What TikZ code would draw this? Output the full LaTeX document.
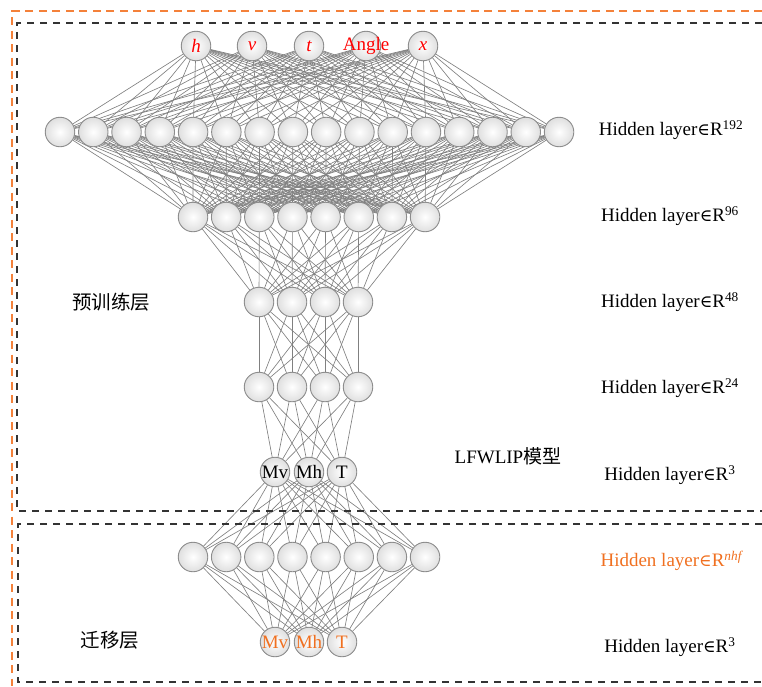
\documentclass[tikz,border=0pt]{standalone}
\usepackage{fontspec}
\setmainfont{Liberation Serif}
\newfontfamily\cjk{Noto Sans CJK SC}
\newfontfamily\symf{DejaVu Serif}
\newcommand{\elemof}{{\symf\fontsize{17}{20}\selectfont ∈}}
\definecolor{orgline}{HTML}{F4813A}
\definecolor{orgtext}{HTML}{F07020}
\definecolor{dashgray}{HTML}{333333}
\pgfdeclarelayer{bg}
\pgfsetlayers{bg,main}
\begin{document}
\begin{tikzpicture}[x=1pt,y=-1pt,
  neuron/.style={circle,minimum size=29.5pt,inner sep=0pt,draw=gray!90,line width=0.9pt,
    inner color=white,outer color=gray!25},
  conn/.style={draw=black!50,line width=0.65pt},
  lbl/.style={font=\fontsize{19}{22}\selectfont,anchor=center},
  boxo/.style={draw=orgline,line width=1.4pt,dash pattern=on 8pt off 5.5pt},
  boxk/.style={draw=dashgray,line width=1.3pt,dash pattern=on 7pt off 6pt},
  inlbl/.style={font=\fontsize{19}{22}\selectfont\itshape,text=red},
  nlbl/.style={font=\fontsize{19}{22}\selectfont}
]
\useasboundingbox (0,0) rectangle (762,686);
% frames
\draw[boxo] (762,11) -- (12,11) -- (12,686);
\draw[boxk] (762,23) -- (17,23) -- (17,511) -- (762,511);
\draw[boxk] (762,524) -- (18,524) -- (18,682) -- (762,682);
% input layer
\node[neuron,inlbl] (a1) at (196,46) {h};
\node[neuron,inlbl] (a2) at (252,46) {v};
\node[neuron,inlbl] (a3) at (309,46) {t};
\node[neuron,label={[font=\fontsize{19}{22}\selectfont,text=red]center:Angle}] (a4) at (366,46) {};
\node[neuron,inlbl] (a5) at (423,46) {x};
% layer 192 (16 nodes)
\foreach \i in {1,...,16}
  \node[neuron] (b\i) at ({60+(\i-1)*33.27},132) {};
% layer 96 (8)
\foreach \i in {1,...,8}
  \node[neuron] (c\i) at ({193+(\i-1)*33.15},217) {};
% layer 48 (4)
\foreach \i in {1,...,4}
  \node[neuron] (d\i) at ({259+(\i-1)*33},302) {};
% layer 24 (4)
\foreach \i in {1,...,4}
  \node[neuron] (e\i) at ({259+(\i-1)*33},387) {};
% layer 3
\node[neuron,nlbl] (f1) at (275,472) {Mv};
\node[neuron,nlbl] (f2) at (309,472) {Mh};
\node[neuron,nlbl] (f3) at (342,472) {T};
% transfer layer (8)
\foreach \i in {1,...,8}
  \node[neuron] (g\i) at ({193+(\i-1)*33.15},557) {};
% output layer
\node[neuron,nlbl,text=orgtext] (h1) at (275,642) {Mv};
\node[neuron,nlbl,text=orgtext] (h2) at (309,642) {Mh};
\node[neuron,nlbl,text=orgtext] (h3) at (342,642) {T};
% connections
\begin{pgfonlayer}{bg}
\foreach \i in {1,...,5} \foreach \j in {1,...,16} \draw[conn] (a\i) -- (b\j);
\foreach \i in {1,...,16} \foreach \j in {1,...,8} \draw[conn] (b\i) -- (c\j);
\foreach \i in {1,...,8} \foreach \j in {1,...,4} \draw[conn] (c\i) -- (d\j);
\foreach \i in {1,...,4} \foreach \j in {1,...,4} \draw[conn] (d\i) -- (e\j);
\foreach \i in {1,...,4} \foreach \j in {1,...,3} \draw[conn] (e\i) -- (f\j);
\foreach \i in {1,...,3} \foreach \j in {1,...,8} \draw[conn] (f\i) -- (g\j);
\foreach \i in {1,...,8} \foreach \j in {1,...,3} \draw[conn] (g\i) -- (h\j);
\end{pgfonlayer}
% right labels
\node[lbl] (r1) at (671,130) {Hidden layer\elemof R\textsuperscript{192}};
\node[lbl] (r2) at (670,216) {Hidden layer\elemof R\textsuperscript{96}};
\node[lbl] (r3) at (670,302) {Hidden layer\elemof R\textsuperscript{48}};
\node[lbl] (r4) at (670,388) {Hidden layer\elemof R\textsuperscript{24}};
\node[lbl] (r5) at (670,475) {Hidden layer\elemof R\textsuperscript{3}};
\node[lbl,text=orgtext] (r6) at (672,561) {Hidden layer\elemof R\textsuperscript{\textit{nhf}}};
\node[lbl] (r7) at (670,647) {Hidden layer\elemof R\textsuperscript{3}};
% side labels
\node[lbl,font=\fontsize{19.5}{22}\selectfont\cjk] (s1) at (111,302) {预训练层};
\node[lbl] (s2) at (508,456) {LFWLIP{\cjk 模型}};
\node[lbl,font=\fontsize{19.5}{22}\selectfont\cjk] (s3) at (110,640) {迁移层};
\end{tikzpicture}
\end{document}
